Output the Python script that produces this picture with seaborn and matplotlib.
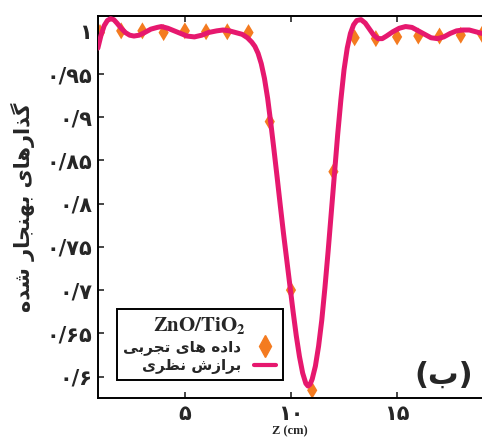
import numpy as np
import pandas as pd
import matplotlib
matplotlib.use('Agg')
import matplotlib.pyplot as plt
import seaborn as sns
from matplotlib.lines import Line2D

exp_z = [1, 2, 3, 4, 5, 6, 7, 8, 9, 10, 11, 12, 13, 14, 15, 16, 17, 18, 19]
exp_t = [0.998, 1.0, 1.0, 0.998, 1.0, 0.999, 0.999, 0.998, 0.895, 0.70, 0.584, 0.837,
         0.992, 0.991, 0.993, 0.994, 0.994, 0.995, 0.996]

# theoretical fit, points
fit_z = [0.9, 1.05, 1.2, 1.35, 1.5, 1.65, 1.8, 2.0, 2.2, 2.4, 2.6, 2.85, 3.1, 3.4,
         3.7, 3.9, 4.2, 4.5, 4.8, 5.1, 5.45, 5.8, 6.1, 6.5, 6.8, 7.1, 7.4, 7.7,
         7.95, 8.15, 8.3, 8.45, 8.6, 8.75, 8.9, 9.05, 9.2, 9.35, 9.5, 9.65, 9.8,
         9.95, 10.1, 10.25, 10.4, 10.55, 10.7, 10.8, 10.9, 11.0, 11.15, 11.3, 11.45,
         11.6, 11.75, 11.9, 12.05, 12.2, 12.35, 12.5, 12.65, 12.8, 12.95, 13.1, 13.3,
         13.5, 13.7, 13.9, 14.1, 14.3, 14.5, 14.8, 15.1, 15.4, 15.7, 16.0, 16.3,
         16.6, 16.9, 17.2, 17.5, 17.8, 18.1, 18.4, 18.7, 19.0]
fit_t = [0.980, 0.995, 1.006, 1.012, 1.014, 1.013, 1.009, 1.003, 0.998, 0.995, 0.994,
         0.995, 0.998, 1.002, 1.004, 1.005, 1.003, 1.000, 0.997, 0.994, 0.993, 0.995,
         0.998, 1.000, 1.001, 1.000, 0.998, 0.996, 0.992, 0.987, 0.982, 0.974, 0.962,
         0.945, 0.922, 0.893, 0.862, 0.830, 0.797, 0.765, 0.735, 0.705, 0.675, 0.647,
         0.623, 0.604, 0.592, 0.589, 0.591, 0.597, 0.612, 0.635, 0.665, 0.703, 0.745,
         0.790, 0.835, 0.880, 0.920, 0.955, 0.980, 0.997, 1.007, 1.012, 1.013, 1.009,
         1.002, 0.995, 0.991, 0.991, 0.994, 0.999, 1.003, 1.005, 1.004, 1.000, 0.996,
         0.992, 0.991, 0.993, 0.997, 1.000, 1.001, 1.001, 0.999, 0.997]

x_ticks = [5, 10, 15]
x_labels = ['\u06f5', '\u06f1\u06f0', '\u06f1\u06f5']
y_ticks = [0.6, 0.65, 0.7, 0.75, 0.8, 0.85, 0.9, 0.95, 1.0]
y_labels = ['\u06f0/\u06f6', '\u06f0/\u06f6\u06f5', '\u06f0/\u06f7', '\u06f0/\u06f7\u06f5',
            '\u06f0/\u06f8', '\u06f0/\u06f8\u06f5', '\u06f0/\u06f9', '\u06f0/\u06f9\u06f5',
            '\u06f1']

# persian text, written in shaped (presentation) forms in visual order
ylab = ('\ufee9\ufeaa\ufeb7 \ufead\ufe8e\ufea0\ufee8\ufeec\ufe91 '
        '\ufbfc\ufe8e\ufeeb\ufead\ufe8d\ufeac\ufb94')
lab_exp = ('\ufbfd\ufe91\ufeae\ufea0\ufe97 \ufbfc\ufe8e\ufeeb '
           '\ufee9\ufea9\ufe8d\ufea9')
lab_fit = '\ufbfc\ufeae\ufec8\ufee7 \ufeb5\ufeaf\ufe8d\ufeae\ufe91'
panel = '(\ufe8f)'

orange = '#f47b20'
pink = '#e6186e'

sns.set_style('ticks')
plt.rcParams['font.family'] = ['DejaVu Sans']
plt.rcParams['mathtext.fontset'] = 'stix'

df_exp = pd.DataFrame({'z': exp_z, 't': exp_t})
df_fit = pd.DataFrame({'z': fit_z, 't': fit_t})

fig = plt.figure(figsize=(4.82, 4.37), dpi=100)
ax = fig.add_axes([0.203, 0.089, 0.797, 0.874])

sns.scatterplot(data=df_exp, x='z', y='t', marker='d', s=75, color=orange,
                edgecolor='none', ax=ax, zorder=2)
sns.lineplot(data=df_fit, x='z', y='t', color=pink, linewidth=3.6, ax=ax,
             zorder=3, sort=False, solid_joinstyle='round', solid_capstyle='round')

ax.set_xlim(0.9, 19.0)
ax.set_ylim(0.575, 1.017)
ax.set_xticks(x_ticks)
ax.set_xticklabels(x_labels, fontsize=15, fontweight='bold')
ax.set_yticks(y_ticks)
ax.set_yticklabels(y_labels, fontsize=15, fontweight='bold')
ax.tick_params(axis='x', direction='in', length=4, width=1.2, top=True, pad=4)
ax.tick_params(axis='y', direction='in', length=4, width=1.2, right=False, pad=4)
ax.spines['right'].set_visible(False)
for s in ['left', 'bottom', 'top']:
    ax.spines[s].set_linewidth(1.4)
    ax.spines[s].set_color('black')

ax.set_xlabel('Z (cm)', fontsize=9, fontweight='bold', family='Liberation Serif',
              labelpad=1)
ax.set_ylabel(ylab, fontsize=15, fontweight='bold', labelpad=8)

handles = [Line2D([], [], marker='d', linestyle='none', color=orange, markersize=11),
           Line2D([], [], color=pink, linewidth=3)]
leg = ax.legend(handles, [lab_exp, lab_fit], title=r'$\mathbf{ZnO/TiO_2}$',
                loc='lower left', bbox_to_anchor=(0.05, 0.047), borderaxespad=0,
                markerfirst=False, fancybox=False, framealpha=1, edgecolor='black',
                prop={'size': 11, 'weight': 'bold'}, title_fontsize=15,
                handlelength=1.5, handletextpad=0.8, labelspacing=0.2,
                borderpad=0.4)
leg.get_frame().set_linewidth(1.4)

ax.text(0.90, 0.06, panel, transform=ax.transAxes, fontsize=22, fontweight='bold',
        ha='center', va='center')

fig.savefig('out.png', dpi=100)
